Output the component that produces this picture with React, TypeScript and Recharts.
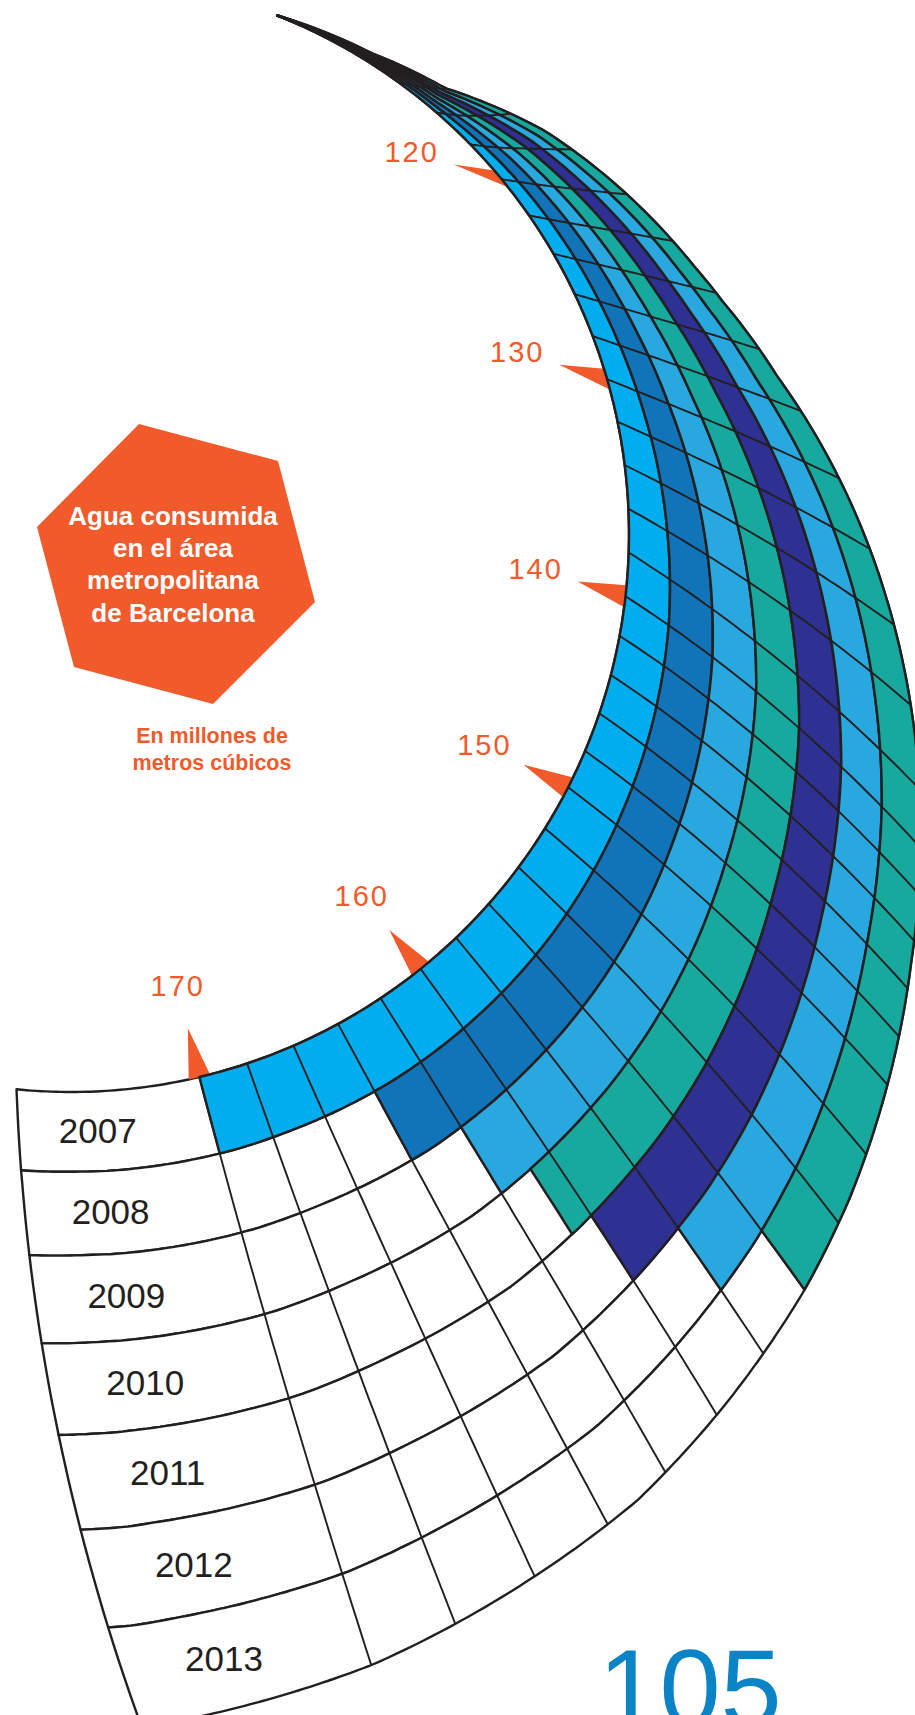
import React from 'react';
import { RadialBarChart, RadialBar, PolarAngleAxis, PolarRadiusAxis } from 'recharts';

// Agua consumida en el área metropolitana de Barcelona (millones de m3)
const YEARS = ['2007', '2008', '2009', '2010', '2011', '2012', '2013'];
const CONSUMPTION = [170, 164, 162, 160.8, 160, 158, 156];
const YEAR_COLORS = ['#00aeef', '#1174b9', '#29a8e0', '#17a99e', '#2e3192', '#29a8e0', '#17a99e'];
const TICKS = [120, 130, 140, 150, 160, 170];
const GRID_FROM = 110;
const GRID_TO = 170;
const CELL_STEP = 2;
const DOMAIN: [number, number] = [108, 178];
const LABEL_VALUE = 174.7;

const data = YEARS.map((year, i) => ({ year, value: CONSUMPTION[i], fill: YEAR_COLORS[i] }));
// empty track of each ring, running to the end of the scale
const trackData = YEARS.map((year) => ({ year, value: DOMAIN[1] }));

const W = 915;
const H = 1715;
const CX = 71;
const CY = 534;
const R_IN = 558;
const BAND = 700; // nominal radial extent given to recharts, warped below
const START_ANGLE = 67.388;
const END_ANGLE = -95.292;
const INK = '#231f20';
const ORANGE = '#f15a2b';
const FONT = '"Liberation Sans", Arial, Helvetica, sans-serif';

// the printed graphic is a spiral, not concentric rings: these tables bend the polar layout
const TRUE_ANGLE = [[108, 68.3], [120, 39.5], [130, 16.1], [140, -6.4], [150, -27], [160, -51.2], [170, -76.7], [178, -95.6]];
const WIDTH = [[-100, 650], [-86.7, 638], [-75, 612], [-59.6, 562], [-53.7, 534], [-46, 496], [-40.4, 465], [-27, 385], [-13.5, 310], [-1.1, 241], [7.4, 194], [12.5, 166], [19.6, 134], [23.3, 120], [40.4, 64], [50, 24], [58, 9], [68.3, 0]];
const SKEW = [[-110, 9], [-95, 9], [-77, 1.6], [-62, 0], [-51, -2.6], [-27, -7], [-3, -15], [22, -11], [40, -8], [68, 0]];
// rings are wider near the centre on the right and wider outside at the bottom
const RING_BEND = [[-110, -0.15], [-90, -0.15], [-70, -0.1], [-46, 0], [-30, 0.08], [-6, 0.18], [68, 0.15]];

function interp(table: number[][], x: number) {
  const t = table[0][0] < table[table.length - 1][0] ? table : [...table].reverse();
  if (x <= t[0][0]) return t[0][1];
  if (x >= t[t.length - 1][0]) return t[t.length - 1][1];
  for (let i = 1; i < t.length; i++) {
    if (x <= t[i][0]) {
      const [x0, y0] = t[i - 1];
      const [x1, y1] = t[i];
      return y0 + ((y1 - y0) * (x - x0)) / (x1 - x0);
    }
  }
  return t[t.length - 1][1];
}

const angleToValue = (a: number) => DOMAIN[0] + ((a - START_ANGLE) / (END_ANGLE - START_ANGLE)) * (DOMAIN[1] - DOMAIN[0]);
const valueToAngle = (v: number) => START_ANGLE + ((v - DOMAIN[0]) / (DOMAIN[1] - DOMAIN[0])) * (END_ANGLE - START_ANGLE);

function point(angle: number, u: number): [number, number] {
  const t = interp(TRUE_ANGLE, angleToValue(angle));
  const uw = u + interp(RING_BEND, t) * u * (1 - u);
  const phi = t + interp(SKEW, t) * uw;
  const r = R_IN + uw * interp(WIDTH, phi);
  const rad = (phi * Math.PI) / 180;
  return [CX + r * Math.cos(rad), CY - r * Math.sin(rad)];
}

const fmt = (p: [number, number]) => `${p[0].toFixed(1)},${p[1].toFixed(1)}`;

function sectorPath(a0: number, a1: number, u0: number, u1: number) {
  const n = Math.max(8, Math.ceil(Math.abs(a1 - a0) * 2));
  const pts: [number, number][] = [];
  for (let i = 0; i <= n; i++) pts.push(point(a0 + ((a1 - a0) * i) / n, u0));
  for (let j = 1; j <= 6; j++) pts.push(point(a1, u0 + ((u1 - u0) * j) / 6));
  for (let i = n - 1; i >= 0; i--) pts.push(point(a0 + ((a1 - a0) * i) / n, u1));
  for (let j = 5; j >= 1; j--) pts.push(point(a0, u0 + ((u1 - u0) * j) / 6));
  return 'M' + pts.map(fmt).join('L') + 'Z';
}

function cellLines(a0: number, a1: number, u0: number, u1: number) {
  const v0 = angleToValue(a0);
  const v1 = angleToValue(a1);
  const lo = Math.min(v0, v1);
  const hi = Math.max(v0, v1);
  const out: string[] = [];
  for (let v = GRID_FROM; v <= GRID_TO; v += CELL_STEP) {
    if (v <= lo + 0.01 || v >= hi - 0.01) continue;
    const a = valueToAngle(v);
    const pts: [number, number][] = [];
    for (let j = 0; j <= 6; j++) pts.push(point(a, u0 + ((u1 - u0) * j) / 6));
    out.push('M' + pts.map(fmt).join('L'));
  }
  return out.join(' ');
}

const toU = (r: number) => (r - R_IN) / BAND;

function RingTrack(props: any) {
  const { innerRadius, outerRadius, startAngle, endAngle } = props;
  const u0 = toU(innerRadius);
  const u1 = toU(outerRadius);
  const ring = Math.round(u0 * YEARS.length);
  const year = props.payload?.year ?? YEARS[ring];
  const [lx, ly] = point(valueToAngle(LABEL_VALUE), (u0 + u1) / 2);
  return (
    <g>
      <path d={sectorPath(startAngle, endAngle, u0, u1)} fill="#fff" stroke={INK} strokeWidth={2.4} strokeLinejoin="round" />
      <path d={cellLines(startAngle, endAngle, u0, u1)} fill="none" stroke={INK} strokeWidth={1.9} />
      <text x={lx} y={ly + 12} textAnchor="middle" fontFamily={FONT} fontSize={35} fill={INK}>
        {year}
      </text>
    </g>
  );
}

function RingBar(props: any) {
  const { innerRadius, outerRadius, startAngle, endAngle, fill } = props;
  const u0 = toU(innerRadius);
  const u1 = toU(outerRadius);
  return (
    <g>
      <path d={sectorPath(startAngle, endAngle, u0, u1)} fill={fill} stroke={INK} strokeWidth={2.5} strokeLinejoin="round" />
      <path d={cellLines(startAngle, endAngle, u0, u1)} fill="none" stroke={INK} strokeWidth={1.9} />
    </g>
  );
}

function ScaleTick(props: any) {
  const { payload } = props;
  const v = payload.value;
  const a = typeof payload.coordinate === 'number' ? payload.coordinate : valueToAngle(v);
  const [bx, by] = point(a, 0);
  const t = interp(TRUE_ANGLE, angleToValue(a));
  const dir = (Math.min(t + 180, 163) * Math.PI) / 180;
  const dx = Math.cos(dir);
  const dy = -Math.sin(dir);
  const tr = (t * Math.PI) / 180;
  const tx = Math.sin(tr);
  const ty = Math.cos(tr);
  const tri = [
    [bx + tx * 11, by + ty * 11],
    [bx - tx * 11, by - ty * 11],
    [bx + dx * 50, by + dy * 50],
  ]
    .map((p) => p.join(','))
    .join(' ');
  return (
    <g>
      <polygon points={tri} fill={ORANGE} />
      <text x={bx + dx * 94} y={by + dy * 94 + 10} textAnchor="middle" fontFamily={FONT} fontSize={29} letterSpacing={2} fill={ORANGE}>
        {v}
      </text>
    </g>
  );
}

const chartProps = {
  width: W,
  height: H,
  cx: CX,
  cy: CY,
  innerRadius: R_IN,
  outerRadius: R_IN + BAND,
  startAngle: START_ANGLE,
  endAngle: END_ANGLE,
  barCategoryGap: 0,
  margin: { top: 0, right: 0, bottom: 0, left: 0 },
};

const layer: React.CSSProperties = { position: 'absolute', left: 0, top: 0 };

export default function App() {
  return (
    <div style={{ position: 'absolute', left: 0, top: 0, width: W, height: H, overflow: 'hidden', background: '#fff' }}>
      <div style={layer}>
        <RadialBarChart {...chartProps} data={trackData}>
          <PolarAngleAxis type="number" domain={DOMAIN} ticks={TICKS} tick={(p: any) => <ScaleTick {...p} />} axisLine={false} tickLine={false} />
          <PolarRadiusAxis type="category" dataKey="year" tick={false} axisLine={false} />
          <RadialBar dataKey="value" isAnimationActive={false} shape={(p: any) => <RingTrack {...p} />} />
        </RadialBarChart>
      </div>
      <div style={layer}>
        <RadialBarChart {...chartProps} data={data}>
          <PolarAngleAxis type="number" domain={DOMAIN} tick={false} axisLine={false} tickLine={false} />
          <PolarRadiusAxis type="category" dataKey="year" tick={false} axisLine={false} />
          <RadialBar dataKey="value" isAnimationActive={false} shape={(p: any) => <RingBar {...p} />} />
        </RadialBarChart>
      </div>
      <svg width={W} height={H} style={{ ...layer, pointerEvents: 'none' }}>
        <polygon points="139,424 278,461 315,602 213,704 74,667 37,527" fill={ORANGE} />
        <g fontFamily={FONT} fontWeight="bold" fontSize={26} fill="#fff" textAnchor="middle">
          <text x={173} y={525}>Agua consumida</text>
          <text x={173} y={557}>en el área</text>
          <text x={173} y={589}>metropolitana</text>
          <text x={173} y={622}>de Barcelona</text>
        </g>
        <g fontFamily={FONT} fontWeight="bold" fontSize={21.5} fill={ORANGE} textAnchor="middle">
          <text x={212} y={743}>En millones de</text>
          <text x={212} y={770}>metros cúbicos</text>
        </g>
        <text x={690} y={1726} textAnchor="middle" fontFamily={FONT} fontSize={110} fill="#0a84c6">
          105
        </text>
      </svg>
    </div>
  );
}
